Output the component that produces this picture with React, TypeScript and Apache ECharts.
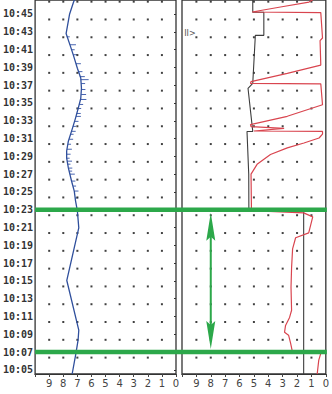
import React, { useEffect, useRef } from "react";
import * as echarts from "echarts";

// time axis: minutes after 10:00
const yMin = 4.54;
const yMax = 46.57;
const timeTickMinutes = [5, 7, 9, 11, 13, 15, 17, 19, 21, 23, 25, 27, 29, 31, 33, 35, 37, 39, 41, 43, 45];
const scaleTicks = [0, 1, 2, 3, 4, 5, 6, 7, 8, 9, 10];
const dotValues = [1, 2, 3, 4, 5, 6, 7, 8, 9];
const dotMinutes = [7, 9, 11, 13, 15, 17, 19, 21, 23, 25, 27, 29, 31, 33, 35, 37, 39, 41, 43, 45, 47];

// left panel, blue trace: [value, minute]
const blueValues = [7.37, 7.1, 6.95, 6.9, 7.75, 6.9, 7.0, 7.13, 7.22, 7.41, 7.64, 7.76, 7.76, 7.64, 7.34, 7.13, 6.94, 6.76, 6.71, 6.76, 7.0, 7.29, 7.52, 7.8, 7.55, 7.27, 7.2];
const blueMinutes = [4.54, 6.89, 8.34, 9.46, 15.05, 20.97, 22.87, 24.0, 25.1, 26.2, 27.7, 28.8, 29.6, 30.7, 32.2, 33.3, 34.4, 35.5, 36.65, 37.8, 38.9, 40.4, 41.5, 42.8, 45.0, 46.34, 46.6];

// short spikes on the blue trace
const spikeMinutes = [42.43, 41.54, 40.98, 40.42, 39.41, 38.52, 37.96, 37.62, 37.18, 36.51, 35.95, 35.39, 34.83, 34.38, 33.82, 33.49, 32.93, 32.37, 31.81, 31.48, 30.92, 30.36, 29.8, 29.24, 28.79, 28.46, 28.12, 27.68, 27.34, 27.0, 26.22, 25.66, 25.1, 24.32];
const spikeFrom = [7.75, 7.52, 7.4, 7.29, 7.1, 6.92, 6.82, 6.76, 6.73, 6.71, 6.73, 6.78, 6.87, 6.94, 7.04, 7.1, 7.2, 7.31, 7.4, 7.48, 7.58, 7.66, 7.74, 7.76, 7.76, 7.73, 7.7, 7.64, 7.58, 7.53, 7.42, 7.3, 7.2, 7.15];
const spikeTo = [7.54, 7.1, 7.19, 7.01, 6.75, 6.64, 6.47, 6.2, 6.45, 6.43, 6.38, 6.36, 6.59, 6.73, 6.76, 6.75, 6.92, 7.1, 7.12, 7.27, 7.3, 7.45, 7.39, 7.48, 7.55, 7.38, 7.49, 7.36, 7.37, 7.18, 7.14, 7.09, 6.92, 6.94];

// right panel, red trace
const redValues = [0.6, 0.49, 0.35, 2.31, 2.45, 2.59, 2.87, 2.8, 2.52, 2.38, 2.42, 2.38, 2.31, 2.1, 1.19, 0.91, 1.54, 5.17, 5.2, 4.78, 3.85, 2.68, 1.52, 0.47, 0.23, 0.23, 5.0, 2.9, 5.2, 5.24, 2.68, 0.23, 0.35, 5.24, 5.2, 2.68, 0.35, 0.4, 0.23, 0.35, 5.13, 3.15, 1.17, 0.9];
const redMinutes = [4.54, 6.1, 6.85, 6.95, 8.0, 8.9, 9.23, 10.0, 10.9, 11.7, 14.3, 16.5, 18.6, 19.85, 20.4, 22.2, 22.65, 22.9, 27.0, 28.1, 29.2, 29.95, 30.5, 31.06, 31.5, 31.8, 31.85, 32.15, 32.35, 32.56, 33.5, 34.8, 37.15, 37.2, 37.4, 38.33, 39.26, 42.0, 42.3, 45.15, 45.22, 45.78, 46.34, 46.6];

// right panel, dark trace
const darkValues = [1.54, 1.54, 5.35, 5.36, 5.48, 5.08, 5.41, 5.08, 4.9, 4.31, 4.31, 5.08, 5.08];
const darkMinutes = [4.54, 22.9, 22.9, 27.0, 31.8, 31.8, 36.65, 37.2, 42.6, 42.6, 45.2, 45.2, 46.6];

// annotations
const markMinutes = [7, 23];
const arrowValue = 8;
const markerText = "II>";
const markerValue = 9.85;
const markerMinute = 42.75;

const pad2 = (v: number) => (v < 10 ? "0" + v : "" + v);

export default function App() {
  const ref = useRef<HTMLDivElement>(null);
  useEffect(() => {
    document.body.style.margin = "0";
    if (!ref.current) return;
    const chart = echarts.init(ref.current, null, { renderer: "svg" });
    const pairs = (xs: number[], ys: number[]) => xs.map((x, i) => [x, ys[i]]);
    const dots: number[][] = [];
    dotMinutes.forEach((m) => dotValues.forEach((v) => dots.push([v, m])));

    const xAxisCommon = {
      type: "value",
      min: 0,
      max: 10,
      interval: 1,
      inverse: true,
      splitLine: { show: false },
      axisLine: { show: true, lineStyle: { color: "#333", width: 1.2 } },
      axisTick: { show: true, inside: false, length: 3, lineStyle: { color: "#444" } },
      axisLabel: {
        color: "#444",
        fontSize: 10,
        fontFamily: "DejaVu Sans",
        margin: 4,
        showMinLabel: true,
        showMaxLabel: true,
        formatter: (v: number) => (v === 10 ? "" : String(v)),
      },
    };
    const yAxisCommon = {
      type: "value",
      min: yMin,
      max: yMax,
      splitLine: { show: false },
      axisLine: { show: false },
    };

    chart.setOption({
      animation: false,
      grid: [
        { left: 33, right: 156, top: -2, bottom: 20, show: true, borderColor: "#333", borderWidth: 1.3, backgroundColor: "transparent" },
        { left: 182, right: 6, top: -2, bottom: 20, show: true, borderColor: "#333", borderWidth: 1.3, backgroundColor: "transparent" },
      ],
      xAxis: [
        { ...xAxisCommon, gridIndex: 0 },
        { ...xAxisCommon, gridIndex: 1 },
      ],
      yAxis: [
        {
          ...yAxisCommon,
          gridIndex: 0,
          axisTick: { show: true, length: 2, customValues: timeTickMinutes, lineStyle: { color: "#333" } },
          axisLabel: {
            customValues: timeTickMinutes,
            color: "#333",
            fontSize: 10,
            fontWeight: "bold",
            fontFamily: "DejaVu Sans Mono",
            margin: 2,
            formatter: (v: number) => "10:" + pad2(Math.round(v)),
          },
        },
        { ...yAxisCommon, gridIndex: 1, axisTick: { show: false }, axisLabel: { show: false } },
      ],
      series: [
        {
          type: "scatter", xAxisIndex: 0, yAxisIndex: 0, data: dots, symbol: "rect", symbolSize: 2,
          symbolOffset: [0, 5.5], itemStyle: { color: "#111" }, clip: false, silent: true,
        },
        {
          type: "scatter", xAxisIndex: 1, yAxisIndex: 1, data: dots, symbol: "rect", symbolSize: 2,
          symbolOffset: [0, 5.5], itemStyle: { color: "#111" }, clip: false, silent: true,
        },
        {
          type: "line", xAxisIndex: 0, yAxisIndex: 0, data: pairs(blueValues, blueMinutes), showSymbol: false,
          lineStyle: { color: "#2f4f9c", width: 1.3 }, clip: true,
        },
        {
          type: "custom", xAxisIndex: 0, yAxisIndex: 0,
          data: spikeMinutes.map((m, i) => [m, spikeFrom[i], spikeTo[i]]),
          encode: { y: 0, x: [1, 2] },
          renderItem: (params: any, api: any) => {
            const t = api.value(0);
            const p1 = api.coord([api.value(1), t]);
            const p2 = api.coord([api.value(2), t]);
            return {
              type: "line",
              shape: { x1: p1[0], y1: p1[1], x2: p2[0], y2: p2[1] },
              style: { stroke: "#4a66b0", lineWidth: 1 },
            };
          },
        },
        {
          type: "line", xAxisIndex: 1, yAxisIndex: 1, data: pairs(darkValues, darkMinutes), showSymbol: false,
          lineStyle: { color: "#3d3d3d", width: 1.1 }, clip: true,
        },
        {
          type: "line", xAxisIndex: 1, yAxisIndex: 1, data: pairs(redValues, redMinutes), showSymbol: false,
          lineStyle: { color: "#d9454f", width: 1.2 }, clip: true,
        },
      ],
    });

    // annotations placed through the axes
    const green = "#2ca84a";
    const leftEdge = chart.convertToPixel({ gridIndex: 0 }, [10, 0])[0];
    const rightEdge = chart.convertToPixel({ gridIndex: 1 }, [0, 0])[0] + 1;
    const ys = markMinutes.map((m) => chart.convertToPixel({ gridIndex: 0 }, [0, m])[1]);
    const ax = chart.convertToPixel({ gridIndex: 1 }, [arrowValue, 0])[0];
    const yTop = Math.min(...ys) + 3;
    const yBot = Math.max(...ys) - 3;
    const mk = chart.convertToPixel({ gridIndex: 1 }, [markerValue, markerMinute]);
    const elements: any[] = ys.map((y) => ({
      type: "line", z: 100,
      shape: { x1: leftEdge, y1: y, x2: rightEdge, y2: y },
      style: { stroke: green, lineWidth: 4.5 },
    }));
    elements.push({
      type: "line", z: 100,
      shape: { x1: ax, y1: yTop + 10, x2: ax, y2: yBot - 10 },
      style: { stroke: green, lineWidth: 2 },
    });
    elements.push({
      type: "polygon", z: 100,
      shape: { points: [[ax, yTop], [ax + 4.5, yTop + 28], [ax, yTop + 24], [ax - 4.5, yTop + 28]] },
      style: { fill: green },
    });
    elements.push({
      type: "polygon", z: 100,
      shape: { points: [[ax, yBot], [ax + 4.5, yBot - 28], [ax, yBot - 24], [ax - 4.5, yBot - 28]] },
      style: { fill: green },
    });
    elements.push({
      type: "text", z: 100, x: mk[0], y: mk[1],
      style: { text: markerText, fill: "#555", font: "8px DejaVu Sans", textVerticalAlign: "middle" },
    });
    chart.setOption({ graphic: { elements } });

    return () => chart.dispose();
  }, []);
  return <div ref={ref} style={{ width: 332, height: 394 }} />;
}
